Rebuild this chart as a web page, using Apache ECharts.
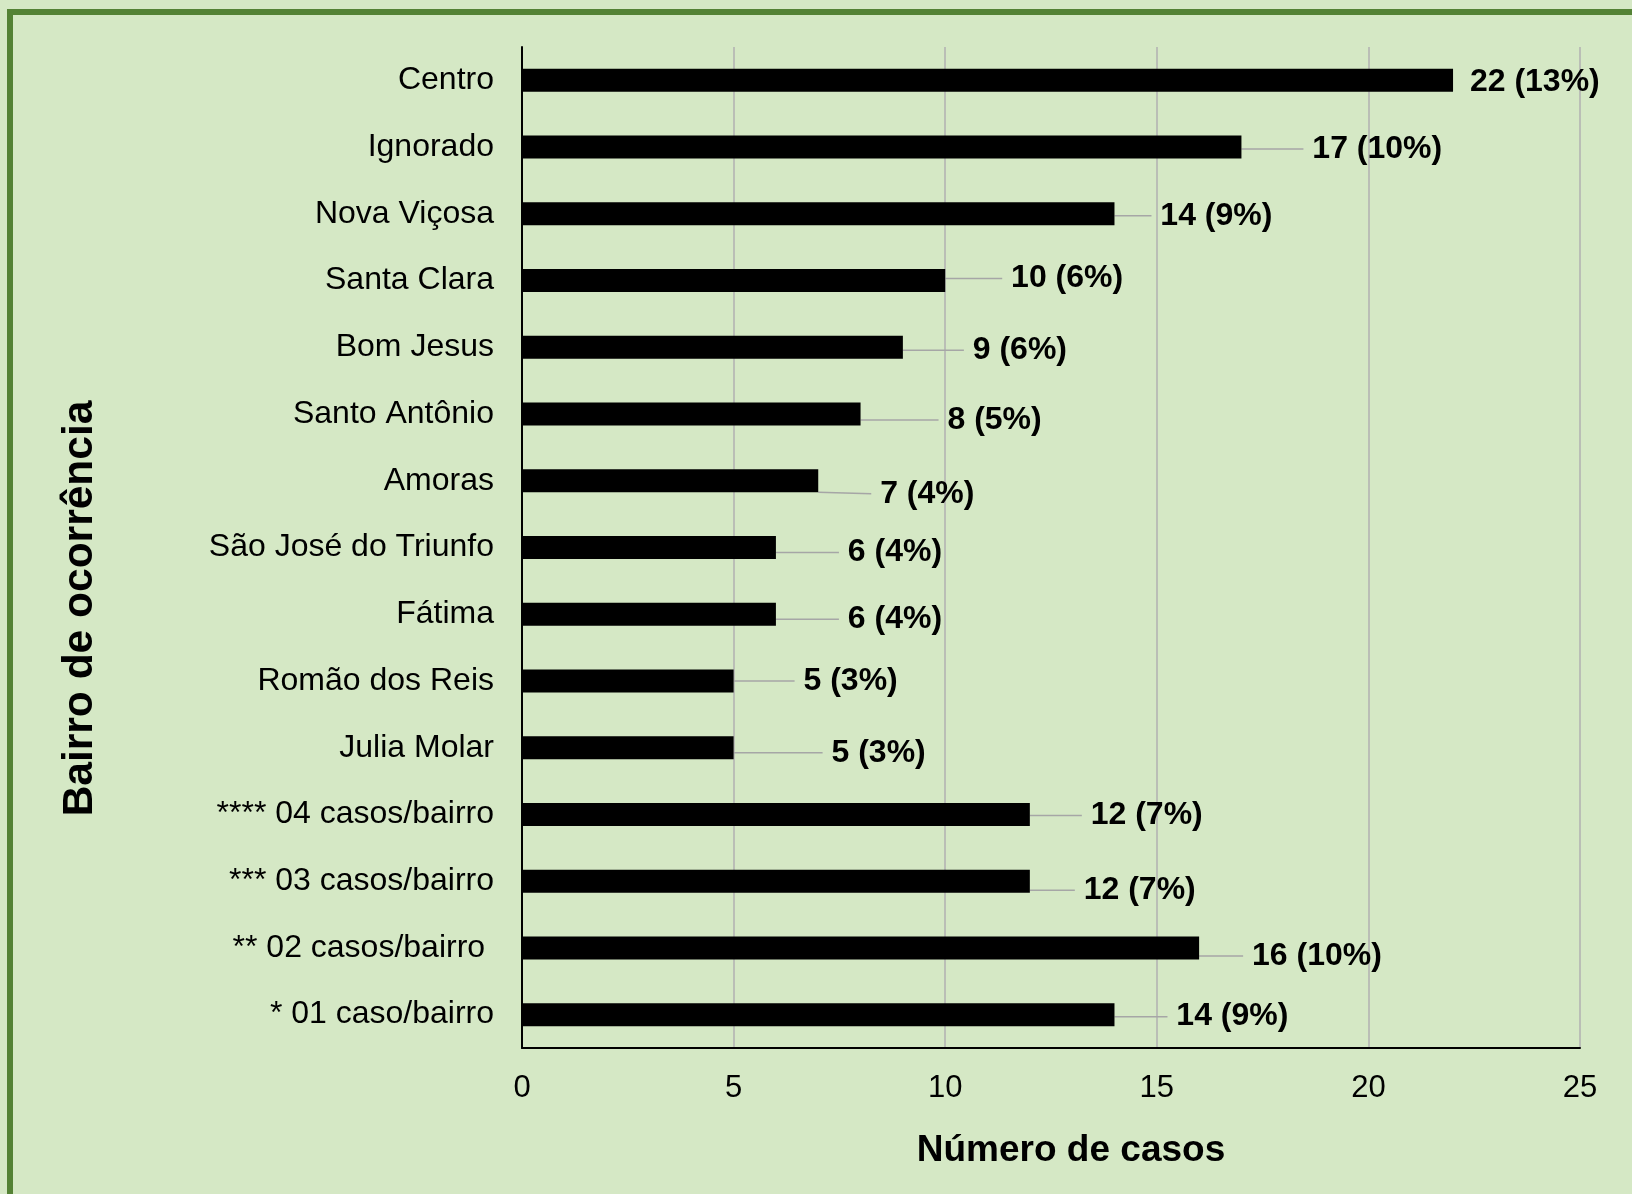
<!DOCTYPE html>
<html>
<head>
<meta charset="utf-8">
<script src="https://cdn.jsdelivr.net/npm/echarts@6/dist/echarts.min.js"></script>
<style>
  html, body { margin: 0; padding: 0; background: #d5e8c5; }
  #chart { width: 1632px; height: 1194px; }
</style>
</head>
<body>
<div id="chart"></div>
<script>
// bairros, de cima para baixo
const bairros = [
  'Centro', 'Ignorado', 'Nova Viçosa', 'Santa Clara', 'Bom Jesus',
  'Santo Antônio', 'Amoras', 'São José do Triunfo', 'Fátima',
  'Romão dos Reis', 'Julia Molar', '**** 04 casos/bairro',
  '*** 03 casos/bairro', '** 02 casos/bairro ', '* 01 caso/bairro'
]
const casos = [22, 17, 14, 10, 9, 8, 7, 6, 6, 5, 5, 12, 12, 16, 14]
const percentual = [13, 10, 9, 6, 6, 5, 4, 4, 4, 3, 3, 7, 7, 10, 9]
const xTicks = [0, 5, 10, 15, 20, 25]

// deslocamento dos rótulos (dx, dy) como no original
const labelNudge = [
  [3, 2], [57, 2], [32, 2], [52, -2], [56, 3], [73, 6], [48, 13],
  [58, 5], [58, 5], [56, 0], [84, 5], [47, 1], [40, 9], [39, 8], [48, 2]
]

const chart = echarts.init(document.getElementById('chart'))
const font = '"Liberation Sans", Arial, sans-serif'

chart.setOption({
  backgroundColor: '#d5e8c5',
  animation: false,
  textStyle: { fontFamily: font, color: '#000' },
  graphic: [{
    type: 'rect',
    shape: { x: 10, y: 12, width: 1700, height: 1300 },
    style: { fill: 'none', stroke: '#548235', lineWidth: 6 },
    silent: true
  }],
  grid: { left: 522, right: 52, top: 47, bottom: 146 },
  xAxis: {
    type: 'value',
    min: xTicks[0],
    max: xTicks[xTicks.length - 1],
    interval: 5,
    name: 'Número de casos',
    nameLocation: 'middle',
    nameGap: 84,
    nameTextStyle: { fontFamily: font, fontSize: 37, fontWeight: 'bold', color: '#000', padding: [0, 0, 0, 40] },
    axisLine: { show: true, lineStyle: { color: '#000', width: 2 } },
    axisTick: { show: false },
    axisLabel: { fontFamily: font, fontSize: 31, color: '#000', margin: 25 },
    splitLine: { show: true, lineStyle: { color: '#b0b0b0', width: 1.5 } }
  },
  yAxis: {
    type: 'category',
    inverse: true,
    data: bairros,
    name: 'Bairro de ocorrência',
    nameLocation: 'middle',
    nameGap: 420,
    nameRotate: 90,
    nameTextStyle: { fontFamily: font, fontSize: 42.5, fontWeight: 'bold', color: '#000', padding: [0, 122, 0, 0] },
    axisLine: { show: true, lineStyle: { color: '#000', width: 2 } },
    axisTick: { show: false },
    axisLabel: { fontFamily: font, fontSize: 32, color: '#000', margin: 28, lineHeight: 40, padding: [4, 0, 0, 0] },
    splitLine: { show: false }
  },
  series: [{
    type: 'bar',
    data: casos.map((v, i) => ({ value: v, labelLine: { show: labelNudge[i][0] > 10 } })),
    barWidth: 23,
    itemStyle: { color: '#000' },
    label: {
      show: true,
      position: 'right',
      fontFamily: font,
      fontSize: 32,
      fontWeight: 'bold',
      color: '#000',
      // espaço inicial deixa folga entre a linha guia e o texto
      formatter: p => ' ' + p.value + ' (' + percentual[p.dataIndex] + '%)'
    },
    labelLayout: p => ({ dx: labelNudge[p.dataIndex][0], dy: labelNudge[p.dataIndex][1] }),
    labelLine: { show: true, lineStyle: { color: '#a6a6a6', width: 1.5 } }
  }]
})
</script>
</body>
</html>
